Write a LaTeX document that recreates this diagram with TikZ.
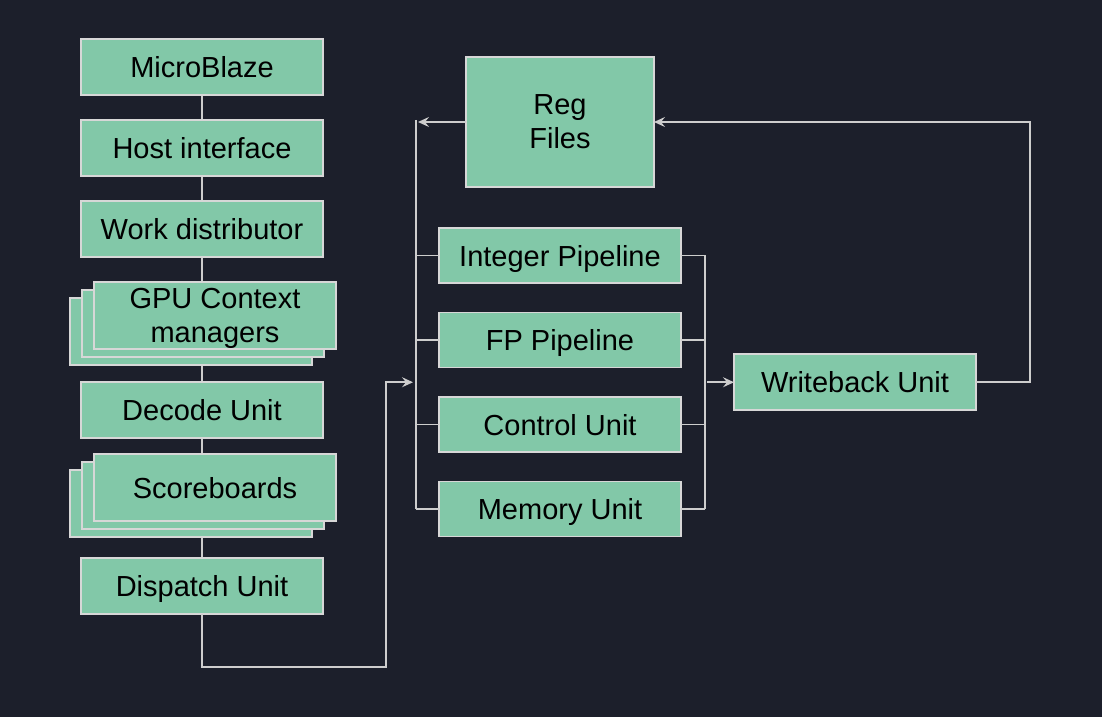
\documentclass[tikz,border=0pt]{standalone}
\usepackage{fontspec}
\setmainfont{Liberation Sans}
\usepackage{xcolor}
\usetikzlibrary{positioning, arrows.meta, calc, backgrounds, shadows}
\definecolor{bgdark}{RGB}{28,31,43}
\definecolor{boxgreen}{RGB}{130,200,168}
\definecolor{boxline}{RGB}{215,215,215}
\definecolor{wiregray}{RGB}{205,205,205}

\begin{document}
\begin{tikzpicture}[
        x=1pt, y=1pt,
        node distance=25pt and 53pt,
        box/.style={draw=boxline, line width=1.5pt, fill=boxgreen, minimum width=242pt, minimum height=56pt, inner sep=2pt, outer sep=0pt, text depth=0pt, font=\fontsize{29}{34}\selectfont, text=black, align=center},
        pipebox/.style={box, minimum height=55pt},
        stackbox/.style={box, minimum height=67pt,
            copy shadow={shadow xshift=-24pt, shadow yshift=-16pt, fill=boxgreen, draw=boxline},
            copy shadow={shadow xshift=-12pt, shadow yshift=-8pt, fill=boxgreen, draw=boxline}},
        wire/.style={draw=wiregray, line width=1.5pt},
        arr/.style={wire, -{Stealth[length=11pt, width=10pt, inset=4pt]}},
    ]
    \begin{scope}[on background layer]
    \fill[bgdark] (0,0) rectangle (1102,717);
    \end{scope}
    \useasboundingbox (0,0) rectangle (1102,717);

    % ---- LEFT COLUMN ----
    \node[box] (micro) at (202,650) {MicroBlaze};
    \node[box, below=of micro] (host) {Host interface};
    \node[box, below=of host] (work) {Work distributor};
    \node[stackbox, below=of work, xshift=13pt] (gpu) {GPU Context\\managers};
    \node[box, below=33pt of gpu, xshift=-13pt] (decode) {Decode Unit};
    \node[stackbox, below=16pt of decode, xshift=13pt] (score) {Scoreboards};
    \node[box, below=37pt of score, xshift=-13pt] (dispatch) {Dispatch Unit};

    % ---- EXECUTION SIDE ----
    \node[box, minimum width=188pt, minimum height=130pt] (regfiles) at (560,595) {Reg\\Files};
    \node[pipebox, below=41pt of regfiles] (intpipe) {Integer Pipeline};
    \node[pipebox, below=29.5pt of intpipe] (fppipe) {FP Pipeline};
    \node[pipebox, below=29.5pt of fppipe] (ctrlunit) {Control Unit};
    \node[pipebox, below=29.5pt of ctrlunit] (memunit) {Memory Unit};
    \coordinate (pipemid) at ($(fppipe.east)!0.5!(ctrlunit.east)$);
    \node[box, right=53pt of pipemid] (writeback) {Writeback Unit};

    % bus points
    \coordinate (bustop) at ([xshift=-50pt]regfiles.west);
    \coordinate (busin) at ($(bustop |- writeback.west)+(-3,0)$);
    \coordinate (rbus) at ([xshift=24pt]intpipe.east);

    % ---- FRONT END LINKS ----
    \begin{scope}[on background layer]
    \draw[wire] (micro.south) -- (dispatch.north);
    \end{scope}
    \draw[arr] (dispatch.south) -- ++(0,-53) -| ($(busin)+(-27,0)$) -- (busin);

    % ---- ISSUE BUS ----
    \draw[wire] ([yshift=2pt]bustop) -- (bustop |- memunit.west);
    \foreach \p in {intpipe, fppipe, ctrlunit, memunit}
        \draw[wire] (bustop |- \p.west) -- (\p.west);
    \draw[arr] (regfiles.west) -- ($(bustop)+(2,0)$);

    % ---- RESULT BUS ----
    \draw[wire] (rbus) -- (rbus |- memunit.east);
    \foreach \p in {intpipe, fppipe, ctrlunit, memunit}
        \draw[wire] (\p.east) -- (rbus |- \p.east);
    \draw[arr] ($(rbus |- writeback.west)+(2,0)$) -- (writeback.west);

    % ---- WRITEBACK ----
    \draw[arr] (writeback.east) -- ++(54,0) |- (regfiles.east);

\end{tikzpicture}
\end{document}
